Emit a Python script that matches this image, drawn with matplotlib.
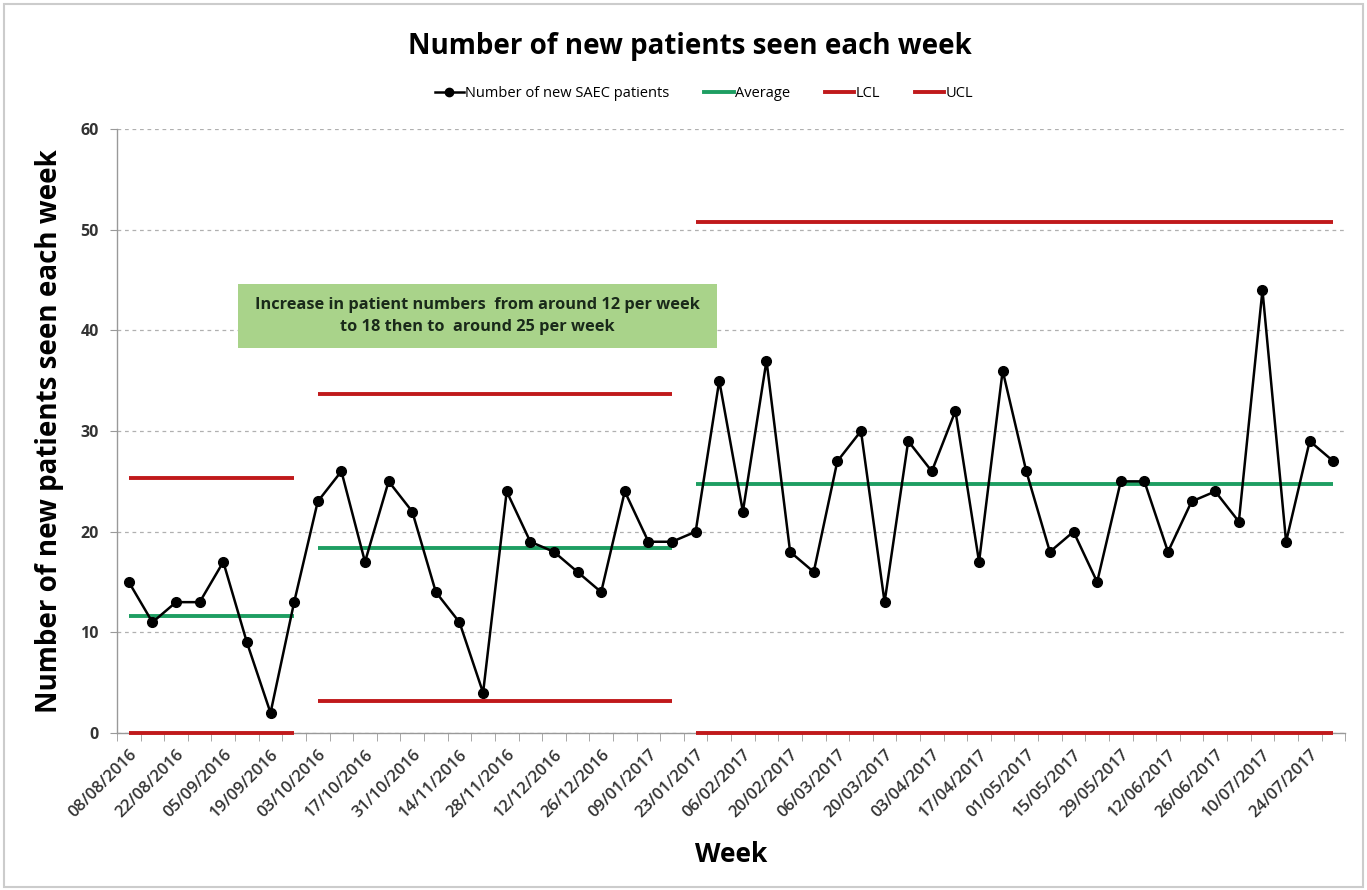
import matplotlib
matplotlib.use("Agg")
import matplotlib.pyplot as plt
from matplotlib.lines import Line2D
from matplotlib.patches import Rectangle
import numpy as np

plt.rcParams['font.family'] = ['Open Sans', 'DejaVu Sans']

patients = [15, 11, 13, 13, 17, 9, 2, 13,
            23, 26, 17, 25, 22, 14, 11, 4, 24, 19, 18, 16, 14, 24, 19, 19,
            20, 35, 22, 37, 18, 16, 27, 30, 13, 29, 26, 32, 17, 36, 26, 18,
            20, 15, 25, 25, 18, 23, 24, 21, 44, 19, 29, 27]

tick_labels = ["08/08/2016", "22/08/2016", "05/09/2016", "19/09/2016", "03/10/2016",
               "17/10/2016", "31/10/2016", "14/11/2016", "28/11/2016", "12/12/2016",
               "26/12/2016", "09/01/2017", "23/01/2017", "06/02/2017", "20/02/2017",
               "06/03/2017", "20/03/2017", "03/04/2017", "17/04/2017", "01/05/2017",
               "15/05/2017", "29/05/2017", "12/06/2017", "26/06/2017", "10/07/2017",
               "24/07/2017"]

seg_start = [0, 8, 24]
seg_end = [7, 23, 51]
average = [11.6, 18.4, 24.7]
ucl = [25.3, 33.7, 50.8]
lcl = [0.0, 3.2, 0.0]

fig = plt.figure(figsize=(13.67, 8.9), dpi=100)
ax = fig.add_axes([0.0856, 0.1764, 0.8984, 0.6786])

x = np.arange(len(patients))
red = '#c0191b'
green = '#1e9e62'

for s, e, a, u, l in zip(seg_start, seg_end, average, ucl, lcl):
    ax.plot([s, e], [u, u], color=red, lw=2.8, solid_capstyle='butt', zorder=3)
    ax.plot([s, e], [l, l], color=red, lw=2.8, solid_capstyle='butt', zorder=3, clip_on=False)
    ax.plot([s, e], [a, a], color=green, lw=2.8, solid_capstyle='butt', zorder=3)

ax.plot(x, patients, color='black', lw=1.8, marker='o', markersize=7, zorder=4)

ax.set_xlim(-0.5, len(patients) - 0.5)
ax.set_ylim(0, 60)
ax.set_yticks(np.arange(0, 61, 10))
ax.grid(axis='y', color='#b0b0b0', linestyle=(0, (3, 3)), lw=0.9)
ax.set_axisbelow(True)

ax.set_xticks(x[::2])
ax.set_xticklabels(tick_labels, rotation=45, ha='right', rotation_mode='anchor',
                   fontsize=12, fontweight='semibold', color='#333333')
ax.set_xticks(np.arange(-0.5, len(patients), 1.0), minor=True)
ax.tick_params(axis='x', which='major', length=0, pad=10)
ax.tick_params(axis='x', which='minor', length=6, color='#999999', direction='out')
ax.tick_params(axis='y', length=5, color='#999999', labelsize=11.5, labelcolor='#333333', pad=8)
for t in ax.get_yticklabels():
    t.set_fontweight('bold')

for side in ['top', 'right']:
    ax.spines[side].set_visible(False)
for side in ['left', 'bottom']:
    ax.spines[side].set_color('#999999')
    ax.spines[side].set_linewidth(1.0)

ax.set_ylabel('Number of new patients seen each week', fontsize=20, fontweight='bold', labelpad=12)
ax.set_xlabel('Week', fontsize=19, fontweight='bold', labelpad=14)

fig.text(0.505, 0.948, 'Number of new patients seen each week', ha='center', va='center',
         fontsize=20, fontweight='bold')

handles = [Line2D([], [], color='black', lw=1.8, marker='o', markersize=6),
           Line2D([], [], color=green, lw=2.8),
           Line2D([], [], color=red, lw=2.8),
           Line2D([], [], color=red, lw=2.8)]
fig.legend(handles, ['Number of new SAEC patients', 'Average', 'LCL', 'UCL'],
           loc='center', bbox_to_anchor=(0.515, 0.895), ncol=4, frameon=False,
           fontsize=10.5, handlelength=2.0, handletextpad=0.1, columnspacing=2.4)

fig.patches.append(Rectangle((238 / 1367, 1 - 348 / 890), (717 - 238) / 1367, 64 / 890,
                             transform=fig.transFigure, facecolor='#a9d38a', edgecolor='none',
                             zorder=5))
fig.text(0.5 * (238 + 717) / 1367, 1 - 316 / 890,
         'Increase in patient numbers  from around 12 per week\nto 18 then to  around 25 per week',
         ha='center', va='center', fontsize=11.8, fontweight='bold', color='#1a2a1a',
         linespacing=1.55, zorder=6)

fig.patches.append(Rectangle((0.003, 0.003), 0.994, 0.992, transform=fig.transFigure,
                             facecolor='none', edgecolor='#cccccc', lw=1.5))

fig.savefig('out.png', dpi=100)
